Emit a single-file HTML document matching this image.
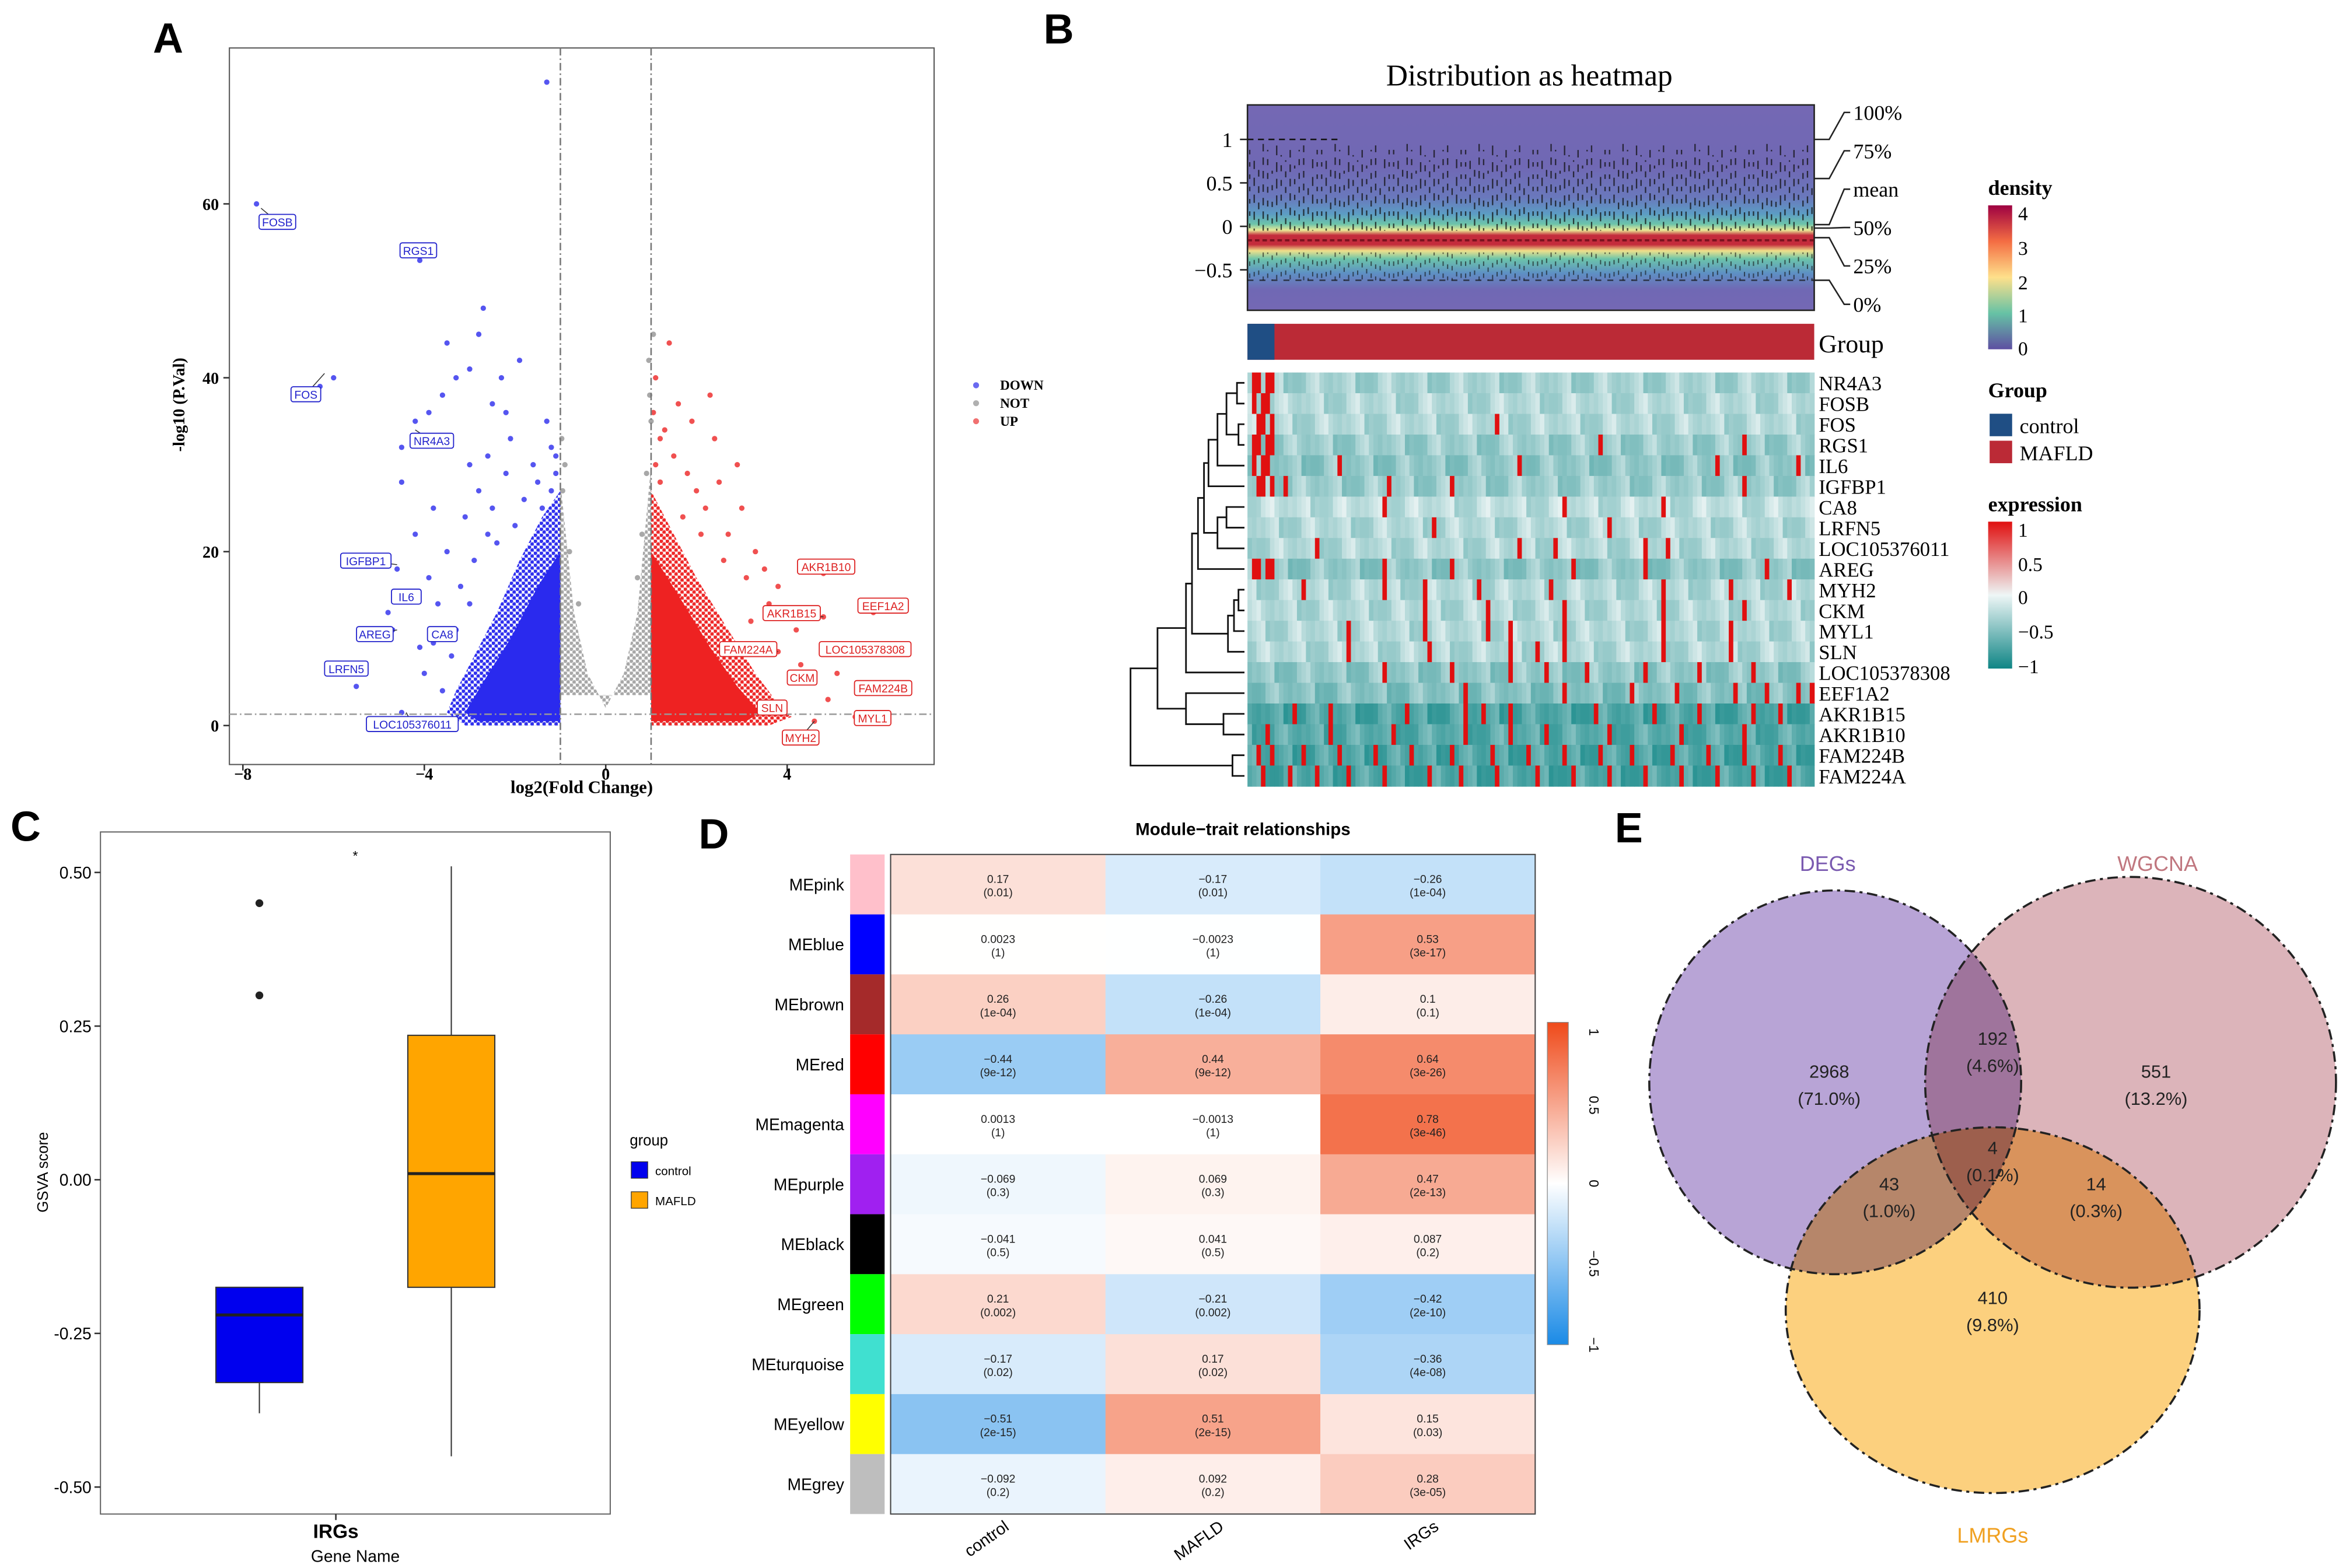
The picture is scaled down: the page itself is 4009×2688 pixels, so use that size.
<!DOCTYPE html>
<html><head><meta charset="utf-8"><style>html,body{margin:0;padding:0;background:#fff}svg{display:block}</style></head>
<body>
<svg id="fig" width="4009" height="2688" viewBox="0 0 1560 1046" preserveAspectRatio="none" xmlns="http://www.w3.org/2000/svg" font-family="Liberation Sans, sans-serif">
<defs>
<linearGradient id="densGrad" x1="0" y1="0" x2="0" y2="1">
<stop offset="0" stop-color="#7468b4"/><stop offset="0.3" stop-color="#7068b4"/><stop offset="0.45" stop-color="#6a78bc"/><stop offset="0.53" stop-color="#5c9cc4"/><stop offset="0.58" stop-color="#6cc4aa"/><stop offset="0.61" stop-color="#eaea96"/><stop offset="0.635" stop-color="#c42c3c"/><stop offset="0.68" stop-color="#c42c3c"/><stop offset="0.71" stop-color="#f0e08a"/><stop offset="0.75" stop-color="#6cc4aa"/><stop offset="0.82" stop-color="#5e90c4"/><stop offset="0.9" stop-color="#7068b4"/><stop offset="1" stop-color="#7468b4"/>
</linearGradient>
<linearGradient id="densLeg" x1="0" y1="1" x2="0" y2="0">
<stop offset="0" stop-color="#5e4fa2"/><stop offset="0.25" stop-color="#66c2a5"/><stop offset="0.5" stop-color="#fee08b"/><stop offset="0.75" stop-color="#f46d43"/><stop offset="1" stop-color="#9e0142"/>
</linearGradient>
<linearGradient id="exprLeg" x1="0" y1="1" x2="0" y2="0">
<stop offset="0" stop-color="#0f8585"/><stop offset="0.5" stop-color="#eef6f6"/><stop offset="1" stop-color="#e01010"/>
</linearGradient>
<linearGradient id="corLeg" x1="0" y1="1" x2="0" y2="0">
<stop offset="0" stop-color="#1a8ae6"/><stop offset="0.5" stop-color="#ffffff"/><stop offset="1" stop-color="#ef4a1a"/>
</linearGradient>
<pattern id="dotB" patternUnits="userSpaceOnUse" width="4" height="4"><circle cx="1" cy="1" r="1.3" fill="#3030ee"/><circle cx="3" cy="3" r="1.3" fill="#3030ee"/></pattern>
<pattern id="dotR" patternUnits="userSpaceOnUse" width="4" height="4"><circle cx="1" cy="1" r="1.3" fill="#ee2a2a"/><circle cx="3" cy="3" r="1.3" fill="#ee2a2a"/></pattern>
<pattern id="dotG" patternUnits="userSpaceOnUse" width="4" height="4"><circle cx="1" cy="1" r="1.3" fill="#a8a8a8"/><circle cx="3" cy="3" r="1.3" fill="#a8a8a8"/></pattern>
</defs>

<text x="102" y="35" font-size="28" font-weight="bold">A</text>
<text x="696" y="29" font-size="28" font-weight="bold">B</text>
<text x="7" y="561" font-size="28" font-weight="bold">C</text>
<text x="466" y="566" font-size="28" font-weight="bold">D</text>
<text x="1077" y="562" font-size="28" font-weight="bold">E</text>

<g id="panelA">
<rect x="153" y="32" width="470" height="478" fill="none" stroke="#555" stroke-width="0.8"/>
<text transform="translate(123,270) rotate(-90)" text-anchor="middle" font-family="Liberation Serif, serif" font-weight="bold" font-size="11">-log10 (P.Val)</text>
<text x="388" y="529" text-anchor="middle" font-family="Liberation Serif, serif" font-weight="bold" font-size="12">log2(Fold Change)</text>
<g font-family="Liberation Serif, serif" font-weight="bold" font-size="9">
<circle cx="651" cy="257" r="2" fill="#6a6af0"/>
<text x="667" y="260">DOWN</text>
<circle cx="651" cy="269" r="2" fill="#b0b0b0"/>
<text x="667" y="272">NOT</text>
<circle cx="651" cy="281" r="2" fill="#f07070"/>
<text x="667" y="284">UP</text>
</g>
</g>

<g id="panelB">
<text x="1020" y="57" text-anchor="middle" font-family="Liberation Serif, serif" font-size="20">Distribution as heatmap</text>
<text x="1213" y="235" font-family="Liberation Serif, serif" font-size="17">Group</text>
<g font-family="Liberation Serif, serif">
<text x="1326" y="130" font-size="14" font-weight="bold">density</text>
<rect x="1326" y="137" width="16" height="96" fill="url(#densLeg)"/>
<g font-size="13"><text x="1346" y="147">4</text><text x="1346" y="170">3</text><text x="1346" y="193">2</text><text x="1346" y="215">1</text><text x="1346" y="237">0</text></g>
<text x="1326" y="265" font-size="14" font-weight="bold">Group</text>
<rect x="1327" y="276" width="15" height="15" fill="#1f4e84"/>
<text x="1347" y="289" font-size="14">control</text>
<rect x="1327" y="294" width="15" height="15" fill="#bb2a36"/>
<text x="1347" y="307" font-size="14">MAFLD</text>
<text x="1326" y="341" font-size="14" font-weight="bold">expression</text>
<rect x="1326" y="348" width="16" height="98" fill="url(#exprLeg)"/>
<g font-size="13"><text x="1346" y="358">1</text><text x="1346" y="381">0.5</text><text x="1346" y="403">0</text><text x="1346" y="426">−0.5</text><text x="1346" y="449">−1</text></g>
</g>
</g>

<g id="panelC">
<rect x="67" y="555" width="340" height="455" fill="none" stroke="#666" stroke-width="0.8"/>
<text transform="translate(32,782) rotate(-90)" text-anchor="middle" font-size="10">GSVA score</text>
<text x="224" y="1026" text-anchor="middle" font-size="13" font-weight="bold">IRGs</text>
<text x="237" y="1042" text-anchor="middle" font-size="11">Gene Name</text>
<text x="237" y="574" text-anchor="middle" font-size="9">*</text>
<text x="420" y="764" font-size="10">group</text>
<rect x="421" y="775" width="11" height="11" fill="#0000ee" stroke="#333" stroke-width="0.5"/>
<text x="437" y="784" font-size="8">control</text>
<rect x="421" y="795" width="11" height="11" fill="#ffa500" stroke="#333" stroke-width="0.5"/>
<text x="437" y="804" font-size="8">MAFLD</text>
</g>

<g id="panelD">
<text x="829" y="557" text-anchor="middle" font-size="11.5" font-weight="bold">Module−trait relationships</text>
<rect x="1032" y="682" width="14" height="215" fill="url(#corLeg)" stroke="#888" stroke-width="0.5"/>
<g font-size="9">
<text transform="translate(1060,686) rotate(90)">1</text>
<text transform="translate(1060,731) rotate(90)">0.5</text>
<text transform="translate(1060,787) rotate(90)">0</text>
<text transform="translate(1060,834) rotate(90)">−0.5</text>
<text transform="translate(1060,892) rotate(90)">−1</text>
</g>
</g>

<g id="panelE">
<g style="mix-blend-mode:multiply">
<ellipse cx="1224" cy="722" rx="124" ry="128" fill="#b8a4d6"/>
<ellipse cx="1421" cy="722" rx="137" ry="137" fill="#dcb4ba" style="mix-blend-mode:multiply"/>
<ellipse cx="1329" cy="874" rx="138" ry="122" fill="#fcd07e" style="mix-blend-mode:multiply"/>
</g>
<g fill="none" stroke="#222" stroke-width="1.4" stroke-dasharray="7,3,2,3">
<ellipse cx="1224" cy="722" rx="124" ry="128"/>
<ellipse cx="1421" cy="722" rx="137" ry="137"/>
<ellipse cx="1329" cy="874" rx="138" ry="122"/>
</g>
<text x="1219" y="581" text-anchor="middle" font-size="14" fill="#7a5ab0">DEGs</text>
<text x="1439" y="581" text-anchor="middle" font-size="14" fill="#c0777f">WGCNA</text>
<text x="1329" y="1029" text-anchor="middle" font-size="14" fill="#f0a020">LMRGs</text>
<g font-size="12" text-anchor="middle" fill="#222">
<text x="1220" y="719">2968</text><text x="1220" y="737">(71.0%)</text>
<text x="1329" y="697">192</text><text x="1329" y="715">(4.6%)</text>
<text x="1438" y="719">551</text><text x="1438" y="737">(13.2%)</text>
<text x="1260" y="794">43</text><text x="1260" y="812">(1.0%)</text>
<text x="1329" y="770">4</text><text x="1329" y="788">(0.1%)</text>
<text x="1398" y="794">14</text><text x="1398" y="812">(0.3%)</text>
<text x="1329" y="870">410</text><text x="1329" y="888">(9.8%)</text>
</g>
</g>

<script>
var NS = 'http://www.w3.org/2000/svg';
var svg = document.getElementById('fig');
function mk(tag, attrs, parent) {
  var e = document.createElementNS(NS, tag);
  for (var k in attrs) e.setAttribute(k, attrs[k]);
  (parent || svg).appendChild(e);
  return e;
}
</script>

<script>
// ===== Panel A: volcano =====
var volcXTicks = [-8, -4, 0, 4];
var volcYTicks = [0, 20, 40, 60];
var downPoints = [[-7.7,60],[-4.4,55],[-4.1,53.5],[-6,40],[-6.3,39],[-4.2,35],[-3.3,40],[-3.0,41],[-3.5,44],[-3.6,38],[-3.9,36],[-4.5,32],[-2.8,45],[-2.7,48],[-2.5,37],[-2.3,40],[-1.9,42],[-3.0,30],[-2.6,31],[-2.2,29],[-3.8,25],[-4.2,22],[-4.5,28],[-4.6,18],[-4.3,15],[-4.7,11],[-3.3,11],[-5.4,6.5],[-5.5,4.5],[-4.5,1.5],[-4.1,9],[-3.7,14],[-3.5,20],[-3.1,24],[-2.8,27],[-2.5,25],[-2.1,33],[-1.6,30],[-1.3,35],[-1.2,32],[-3.9,17],[-4.0,6],[-3.6,4],[-4.8,13],[-1.3,74],[-2.9,19],[-3.2,16],[-2.4,21],[-1.8,26],[-2.0,23],[-3.4,8],[-3.8,9.5],[-1.5,28],[-1.1,29],[-2.2,36],[-1.1,31],[-1.2,27],[-1.4,25],[-2.6,22],[-3.0,14]];
var upPoints = [[1.1,40],[1.3,34],[1.5,31],[1.8,29],[2.0,27],[2.2,25],[2.5,28],[2.7,22],[3.0,25],[3.3,20],[3.5,18],[2.4,33],[1.9,35],[1.6,37],[2.9,30],[3.8,16],[4.8,17.5],[5.9,13],[4.8,12.5],[5.6,8.5],[3.8,8.5],[4.5,5.5],[5.7,4],[3.9,2],[5.5,1],[4.6,0.5],[4.2,11],[4.0,13],[3.6,14],[4.3,7],[4.9,3],[5.1,6],[2.3,38],[1.4,44],[1.2,28],[3.2,12],[2.6,19],[3.1,17],[2.1,22],[1.7,24],[1.1,30],[1.2,33],[1.05,36]];
var notPoints = [[1.0,35],[0.95,42],[1.05,45],[-0.9,30],[-0.95,27],[0.9,29],[0.8,22],[-0.8,20],[0.7,17],[-0.6,14],[0.97,38],[-0.97,33]];
var downEnvX = [-1,-1,-1.4,-1.9,-2.4,-2.9,-3.3,-3.5,-3.1,-1];
var downEnvY = [0,27,24,19,13,8,4,1.5,0,0];
var downCoreX = [-1,-1,-1.5,-2.1,-2.7,-3.1,-2.8,-1];
var downCoreY = [0.5,20,16,10,5,1.5,0.5,0.5];
var upEnvX = [1,1,1.5,2,2.7,3.3,3.8,4.1,3.6,1];
var upEnvY = [0,27,22,17,11,6,2.5,1,0,0];
var upCoreX = [1,1,1.6,2.3,2.9,3.4,3.1,1];
var upCoreY = [0.5,20,15,9,4.5,1.5,0.5,0.5];
var notEnvX = [-2.7,-1,-1,-0.7,-0.4,0,0.4,0.7,1,1,2.9,2.9,-2.7];
var notEnvY = [0,0,28,13,6,2,6,13,30,0,0,3.5,3.5];
var geneLabels = ['FOSB','RGS1','FOS','NR4A3','IGFBP1','IL6','AREG','CA8','LRFN5','LOC105376011','AKR1B10','EEF1A2','AKR1B15','LOC105378308','FAM224A','CKM','FAM224B','SLN','MYL1','MYH2'];
var geneFC = [-7.6,-4.3,-6.2,-4.2,-4.6,-4.1,-4.6,-3.4,-5.4,-4.4,4.8,5.9,4.8,5.6,3.8,4.5,5.7,3.9,5.5,4.6];
var geneP = [59.5,55,40.5,34,18.5,15,11,11,6.5,1.5,17.5,13,12.5,8.5,8.5,5.5,4,2,1,0.5];
var geneDir = ['down','down','down','down','down','down','down','down','down','down','up','up','up','up','up','up','up','up','up','up'];
var labelAt = [[185,148],[279,167],[204,263],[288,294],[244,374],[271,398],[250,423],[295,423],[231,446],[275,483],[551,378],[589,404],[528,409],[577,433],[499,433],[535,452],[589,459],[515,472],[582,479],[534,492]];

(function(){
  var xA = function(v){ return 404 + v*30.25; };
  var yA = function(v){ return 484 - v*5.8; };
  var g = mk('g', {});
  
  
  volcXTicks.forEach(function(t){
    mk('line', {x1:xA(t), x2:xA(t), y1:510, y2:514, stroke:'#333'}, g);
    var tx = mk('text', {x:xA(t), y:520, 'text-anchor':'middle', 'font-family':'Liberation Serif, serif', 'font-weight':'bold', 'font-size':11}, g);
    
    
    tx.textContent = t < 0 ? '−' + Math.abs(t) : String(t);
  });
  volcYTicks.forEach(function(t){
    mk('line', {x1:149, x2:153, y1:yA(t), y2:yA(t), stroke:'#333'}, g);
    var tx = mk('text', {x:146, y:yA(t)+4, 'text-anchor':'end', 'font-family':'Liberation Serif, serif', 'font-weight':'bold', 'font-size':11}, g);
    
    
    tx.textContent = t;
  });
  function env(xs, ys, fill, name){
    var pts = xs.map(function(x,i){ return xA(x)+','+yA(ys[i]); }).join(' ');
    var p = mk('polygon', {points:pts, fill:fill}, g);
    
    
  }
  env(notEnvX, notEnvY, 'url(#dotG)', 'not-significant-cloud');
  env(downEnvX, downEnvY, 'url(#dotB)', 'down-regulated-cloud');
  env(upEnvX, upEnvY, 'url(#dotR)', 'up-regulated-cloud');
  env(downCoreX, downCoreY, '#2a2aee', 'down-regulated-core');
  env(upCoreX, upCoreY, '#ee2222', 'up-regulated-core');
  function dots(arr, col, name){
    arr.forEach(function(p){
      var c = mk('circle', {cx:xA(p[0]), cy:yA(p[1]), r:1.8, fill:col}, g);
      
      
    });
  }
  dots(notPoints, '#a8a8a8', 'not-point');
  dots(downPoints, '#5555f0', 'down-point');
  dots(upPoints, '#f05050', 'up-point');
  [-1,1].forEach(function(v){
    mk('line', {x1:xA(v), x2:xA(v), y1:32, y2:510, stroke:'#777', 'stroke-dasharray':'5,2,1,2', 'stroke-width':1}, g);
  });
  mk('line', {x1:153, x2:623, y1:yA(1.3), y2:yA(1.3), stroke:'#999', 'stroke-dasharray':'5,2,1,2', 'stroke-width':1}, g);
  geneLabels.forEach(function(name, i){
    var col = geneDir[i] === 'down' ? '#2222cc' : '#dd2222';
    var px = xA(geneFC[i]), py = yA(geneP[i]);
    var lx = labelAt[i][0], ly = labelAt[i][1];
    mk('line', {x1:px, y1:py, x2:lx, y2:ly, stroke:'#333', 'stroke-width':0.6}, g);
    var w = name.length*4.6 + 6;
    var r = mk('rect', {x:lx-w/2, y:ly-5, width:w, height:10, fill:'#fff', stroke:col, 'stroke-width':0.7, rx:1.5}, g);
    
    
    var t = mk('text', {x:lx, y:ly+3, 'text-anchor':'middle', 'font-size':7.5, fill:col}, g);
    
    
    t.textContent = name;
  });
})();
</script>

<script>
// ===== Panel B: heatmaps =====
var hmGenes = ['NR4A3','FOSB','FOS','RGS1','IL6','IGFBP1','CA8','LRFN5','LOC105376011','AREG','MYH2','CKM','MYL1','SLN','LOC105378308','EEF1A2','AKR1B15','AKR1B10','FAM224B','FAM224A'];
var hmRowBase = [-0.35,-0.3,-0.3,-0.4,-0.45,-0.4,-0.25,-0.3,-0.3,-0.45,-0.3,-0.3,-0.3,-0.3,-0.45,-0.5,-0.75,-0.7,-0.75,-0.75];
var hmRedLeft = [1,1,1,1,1,1,0,0,0,1,0,0,0,0,0,0,0,0,0,0];
var hmStreakCols = [[],[],[55],[78,110],[20,60,104,122],[8,31,45,110],[30,70,92],[41,80],[15,60,68,88,93],[30,45,72,88,115],[12,30,39,51,67,92,107,120],[39,53,70,92,110],[22,39,53,58,70,92,107],[22,40,58,64,70,92,107],[30,45,58,66,75,88,100,112],[48,70,85,95,108,115,122,125],[10,18,35,48,52,58,77,90,100,112,118],[4,18,32,48,58,66,80,96,110],[2,5,12,20,28,36,45,54,62,70,78,85,94,102,110,118],[3,9,15,22,30,40,47,55,64,72,80,88,96,104,112,120]];
var hmPattern = [0.1,-0.15,0.2,0,-0.1,0.3,-0.05,0.15,-0.2,0.05,0.25,-0.1,0,0.35,-0.15,0.1];
var densYTicks = [1, 0.5, 0, -0.5];
var densYLabels = ['1','0.5','0','−0.5'];
var quantLabels = ['100%','75%','mean','50%','25%','0%'];
var quantValues = [1.0, 0.55, 0.02, -0.02, -0.13, -0.62];
var dendroMerges = [[0,1,825],[2,3,826],[20,21,818],[22,4,812],[23,5,806],[6,7,818],[25,8,812],[24,26,803],[27,9,799],[10,11,826],[29,12,823],[30,13,819],[28,31,795],[32,14,791],[16,17,816],[15,34,791],[33,35,772],[18,19,822],[36,37,754]];

(function(){
  var X0 = 832, X1 = 1210, NC = 126, cw = (X1-X0)/NC;
  var g = mk('g', {});
  
  
  function lerp(a,b,t){ return Math.round(a+(b-a)*t); }
  function ecol(v){
    v = Math.max(-1, Math.min(1, v));
    if (v < 0) { var t = v+1; return 'rgb('+lerp(15,238,t)+','+lerp(133,246,t)+','+lerp(133,246,t)+')'; }
    return 'rgb('+lerp(238,224,v)+','+lerp(246,16,v)+','+lerp(246,16,v)+')';
  }
  var yD = function(v){ return 151 - v*58; };
  var dp = mk('rect', {x:X0, y:70, width:X1-X0, height:137, fill:'url(#densGrad)', stroke:'#222', 'stroke-width':1}, g);
  
  
  for (var c = 0; c < NC; c += 1) {
    var x = X0 + c*cw + cw/2;
    var p1 = hmPattern[c % hmPattern.length], p2 = hmPattern[(c*7+3) % hmPattern.length];
    var top = yD(1 - Math.abs(p1)*1.2);
    var dl = mk('line', {x1:x, x2:x, y1:top, y2:yD(-0.05), stroke:'#111', 'stroke-width':0.9, 'stroke-dasharray':(3+Math.abs(p2)*10)+','+(4+Math.abs(p1)*12), 'stroke-dashoffset':Math.abs(p2)*30, opacity:0.75}, g);
    
    
    mk('line', {x1:x, x2:x, y1:yD(-0.3), y2:yD(-0.62), stroke:'#111', 'stroke-width':0.8, 'stroke-dasharray':'3,5', 'stroke-dashoffset':Math.abs(p1)*20, opacity:0.6}, g);
  }
  mk('line', {x1:X0, x2:X0+60, y1:yD(1), y2:yD(1), stroke:'#111', 'stroke-width':1, 'stroke-dasharray':'4,3'}, g);
  mk('line', {x1:X0, x2:X1, y1:yD(-0.62), y2:yD(-0.62), stroke:'#111', 'stroke-width':0.9, 'stroke-dasharray':'4,4', opacity:0.7}, g);
  mk('line', {x1:X0, x2:X1, y1:yD(-0.16), y2:yD(-0.16), stroke:'#6a0c18', 'stroke-width':1.5, 'stroke-dasharray':'3,2', opacity:0.8}, g);
  densYTicks.forEach(function(t, i){
    mk('line', {x1:X0-5, x2:X0, y1:yD(t), y2:yD(t), stroke:'#222'}, g);
    var tx = mk('text', {x:X0-10, y:yD(t)+5, 'text-anchor':'end', 'font-family':'Liberation Serif, serif', 'font-size':14}, g);
    
    
    tx.textContent = densYLabels[i];
  });
  quantLabels.forEach(function(lab, i){
    var ly = 75 + i*25.6;
    var vy = yD(quantValues[i]);
    mk('polyline', {points:(X1)+','+vy+' '+(X1+10)+','+vy+' '+(X1+20)+','+ly+' '+(X1+24)+','+ly, fill:'none', stroke:'#222', 'stroke-width':1}, g);
    var tx = mk('text', {x:X1+26, y:ly+5, 'font-family':'Liberation Serif, serif', 'font-size':14}, g);
    
    
    tx.textContent = lab;
  });
  var gb1 = mk('rect', {x:X0, y:216, width:X1-X0, height:24, fill:'#bb2a36'}, g);
  
  
  var gb2 = mk('rect', {x:X0, y:216, width:cw*6, height:24, fill:'#1f4e84'}, g);
  
  
  var rh = 13.8, Y0 = 248.5;
  hmGenes.forEach(function(gene, r){
    var y = Y0 + r*rh;
    for (var c = 0; c < NC; c++) {
      var v = hmRowBase[r] + hmPattern[(c*3 + r*5) % hmPattern.length]*0.6;
      if (hmRedLeft[r] && c >= 1 && c <= 5 && ((c + r) % 3 !== 0)) v = 1;
      if (hmStreakCols[r].indexOf(c) >= 0) v = 1;
      var cell = mk('rect', {x:X0 + c*cw, y:y, width:cw+0.3, height:rh+0.3, fill:ecol(v)}, g);
      
      
    }
    var t = mk('text', {x:1213, y:y+rh/2+5, 'font-family':'Liberation Serif, serif', 'font-size':13.5}, g);
    
    
    t.textContent = gene;
  });
  var nodeY = hmGenes.map(function(_, i){ return Y0 + i*rh + rh/2; });
  var nodeX = hmGenes.map(function(){ return 830; });
  dendroMerges.forEach(function(m){
    var a = m[0], b = m[1], x = m[2];
    var p = mk('path', {d:'M'+nodeX[a]+','+nodeY[a]+' H'+x+' V'+nodeY[b]+' H'+nodeX[b], fill:'none', stroke:'#111', 'stroke-width':1.1}, g);
    
    
    nodeY.push((nodeY[a]+nodeY[b])/2);
    nodeX.push(x);
  });
})();
</script>

<script>
// ===== Panel C: boxplot =====
var boxGroups = ['control','MAFLD'];
var boxQ1 = [-0.33, -0.175];
var boxMedian = [-0.22, 0.01];
var boxQ3 = [-0.175, 0.235];
var boxWhiskLow = [-0.38, -0.45];
var boxWhiskHigh = [-0.175, 0.51];
var boxOutliers = [[0.45, 0.30], []];
var boxColors = ['#0000ee', '#ffa500'];
var boxYTicks = [0.5, 0.25, 0, -0.25, -0.5];
var boxYLabels = ['0.50','0.25','0.00','-0.25','-0.50'];
(function(){
  var yC = function(v){ return 787 - v*410; };
  var centers = [173, 301], hw = 29;
  var g = mk('g', {});
  
  
  boxYTicks.forEach(function(t, i){
    mk('line', {x1:63, x2:67, y1:yC(t), y2:yC(t), stroke:'#333'}, g);
    var tx = mk('text', {x:61, y:yC(t)+4, 'text-anchor':'end', 'font-size':11}, g);
    
    
    tx.textContent = boxYLabels[i];
  });
  boxGroups.forEach(function(name, i){
    var cx = centers[i];
    mk('line', {x1:cx, x2:cx, y1:yC(boxWhiskHigh[i]), y2:yC(boxWhiskLow[i]), stroke:'#333', 'stroke-width':0.8}, g);
    var b = mk('rect', {x:cx-hw, y:yC(boxQ3[i]), width:hw*2, height:yC(boxQ1[i])-yC(boxQ3[i]), fill:boxColors[i], stroke:'#333', 'stroke-width':0.8}, g);
    
    
    var md = mk('line', {x1:cx-hw, x2:cx+hw, y1:yC(boxMedian[i]), y2:yC(boxMedian[i]), stroke:'#222', 'stroke-width':2}, g);
    
    
    boxOutliers[i].forEach(function(o){
      var c = mk('circle', {cx:cx, cy:yC(o), r:2.6, fill:'#222'}, g);
      
      
    });
  });
  mk('line', {x1:224, x2:224, y1:1010, y2:1014, stroke:'#333'}, g);
})();
</script>

<script>
// ===== Panel D: module-trait =====
var modules = ['MEpink','MEblue','MEbrown','MEred','MEmagenta','MEpurple','MEblack','MEgreen','MEturquoise','MEyellow','MEgrey'];
var moduleColors = ['#ffc0cb','#0000ff','#a52a2a','#ff0000','#ff00ff','#a020f0','#000000','#00ff00','#40e0d0','#ffff00','#bebebe'];
var traits = ['control','MAFLD','IRGs'];
var corControl = [0.17,0.0023,0.26,-0.44,0.0013,-0.069,-0.041,0.21,-0.17,-0.51,-0.092];
var corMAFLD = [-0.17,-0.0023,-0.26,0.44,-0.0013,0.069,0.041,-0.21,0.17,0.51,0.092];
var corIRGs = [-0.26,0.53,0.1,0.64,0.78,0.47,0.087,-0.42,-0.36,0.15,0.28];
var pControl = ['0.01','1','1e-04','9e-12','1','0.3','0.5','0.002','0.02','2e-15','0.2'];
var pMAFLD = ['0.01','1','1e-04','9e-12','1','0.3','0.5','0.002','0.02','2e-15','0.2'];
var pIRGs = ['1e-04','3e-17','0.1','3e-26','3e-46','2e-13','0.2','2e-10','4e-08','0.03','3e-05'];
(function(){
  var X0 = 594, cw = 143.3, Y0 = 570, rh = 40;
  var g = mk('g', {});
  
  
  function ccol(v){
    function l(a,b,t){ return Math.round(a+(b-a)*t); }
    if (v >= 0) return 'rgb('+l(255,239,v)+','+l(255,74,v)+','+l(255,26,v)+')';
    var t = -v; return 'rgb('+l(255,26,t)+','+l(255,138,t)+','+l(255,230,t)+')';
  }
  function fmt(v){ return v < 0 ? '−' + String(Math.abs(v)) : String(v); }
  var cors = [corControl, corMAFLD, corIRGs], ps = [pControl, pMAFLD, pIRGs];
  modules.forEach(function(m, r){
    var y = Y0 + r*rh;
    var s = mk('rect', {x:567, y:y, width:23, height:rh, fill:moduleColors[r]}, g);
    
    
    var t = mk('text', {x:563, y:y+rh/2+4, 'text-anchor':'end', 'font-size':11}, g);
    
    
    t.textContent = m;
    for (var c = 0; c < 3; c++) {
      var v = cors[c][r];
      var cell = mk('rect', {x:X0 + c*cw, y:y, width:cw+0.3, height:rh+0.3, fill:ccol(v)}, g);
      
      
      var t1 = mk('text', {x:X0 + c*cw + cw/2, y:y+rh/2-1, 'text-anchor':'middle', 'font-size':7.5, fill:'#222'}, g);
      
      
      t1.textContent = fmt(v);
      var t2 = mk('text', {x:X0 + c*cw + cw/2, y:y+rh/2+8, 'text-anchor':'middle', 'font-size':7.5, fill:'#222'}, g);
      
      
      t2.textContent = '(' + ps[c][r] + ')';
    }
  });
  mk('rect', {x:X0, y:Y0, width:cw*3, height:rh*11, fill:'none', stroke:'#444', 'stroke-width':0.8}, g);
  traits.forEach(function(tr, c){
    var cx = X0 + c*cw + cw/2;
    var t = mk('text', {transform:'translate('+(cx+8)+',1020) rotate(-35)', 'text-anchor':'end', 'font-size':11}, g);
    
    
    t.textContent = tr;
  });
})();
</script>
</body></html>
